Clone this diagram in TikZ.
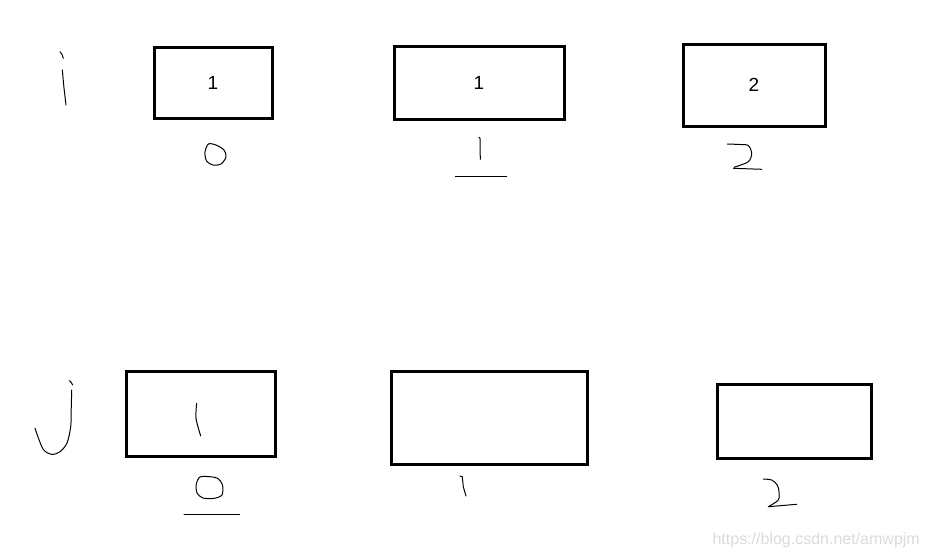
\documentclass[tikz,border=0pt]{standalone}
\usepackage{fontspec}
\setmainfont{Liberation Sans}
\begin{document}
\begin{tikzpicture}[x=1pt,y=-1pt,
  cell/.style={draw=black,line width=3pt,rectangle,inner sep=0pt,font=\fontsize{19}{21}\selectfont},
  hand/.style={draw=black,line width=1pt,line cap=round,line join=round},
  wmark/.style={font=\fontsize{16}{18}\selectfont,text=black!14}]
\useasboundingbox[fill=white] (0,0) rectangle (930,558);
% top row (i)
\node[cell,minimum width=118pt,minimum height=71pt] (a0) at (213,82.5) {1};
\node[cell,minimum width=170pt,minimum height=72.5pt] (a1) at (479,82.75) {1};
\node[cell,minimum width=142pt,minimum height=82pt] (a2) at (754,85) {2};
% bottom row (j)
\node[cell,minimum width=148.5pt,minimum height=84.5pt] (b0) at (200.75,413.75) {};
\node[cell,minimum width=196pt,minimum height=92.5pt] (b1) at (489.5,417.75) {};
\node[cell,minimum width=154pt,minimum height=74.5pt] (b2) at (794,421.25) {};
% handwritten i
\draw[hand] (60,51.7) -- (62.3,55) -- (63.3,58.3);
\draw[hand] (62.3,70) -- (64,88) -- (66,105);
% handwritten 0 under a0
\draw[hand] plot[smooth cycle] coordinates {(208.5,144) (216,145) (224,150) (226,157) (221,164) (213,165) (206.5,161) (205,152)};
% handwritten 1 under a1 with underline
\draw[hand] (479,137.3) -- (480,138.3) -- (480.3,159.3);
\draw[hand] (455.3,176) -- (506.7,176);
% handwritten 2 under a2
\draw[hand] plot[smooth] coordinates {(727.3,144) (740,144.5) (748.3,145.5) (751.7,153.3) (748.3,161.7) (734,167.3)};
\draw[hand] (733.5,168.3) -- (761.7,169.3);
% handwritten j
\draw[hand] (69.3,380.7) -- (71,382) -- (72.7,385);
\draw[hand] plot[smooth] coordinates {(71.7,390) (71.2,410) (70.7,426.7) (67,443) (60,451.7) (51.7,454.3) (43,449) (35,428.3)};
% handwritten 1 in b0
\draw[hand] plot[smooth] coordinates {(196.7,403.3) (196,418.3) (200.7,436)};
% handwritten 0 under b0 with underline
\draw[hand] plot[smooth cycle] coordinates {(200,477) (210,476.7) (218,478.5) (222.5,485) (222,495) (214,498.3) (203,498) (197,493) (196.3,484)};
\draw[hand] (184,514) -- (239.7,514);
% handwritten 1 under b1
\draw[hand] (460,476) -- (462.3,476.7) -- (463.3,486.7) -- (466,496);
% handwritten 2 under b2
\draw[hand] plot[smooth] coordinates {(763.3,479) (771.7,480) (777.3,485) (779,491.7) (778.3,500) (768.3,506.7)};
\draw[hand] plot[smooth] coordinates {(768.3,506.7) (780,505.7) (796.7,504.3)};
% watermark
\node[wmark,anchor=east,inner sep=0pt] (wm) at (920,540) {https://blog.csdn.net/amwpjm};
\end{tikzpicture}
\end{document}
